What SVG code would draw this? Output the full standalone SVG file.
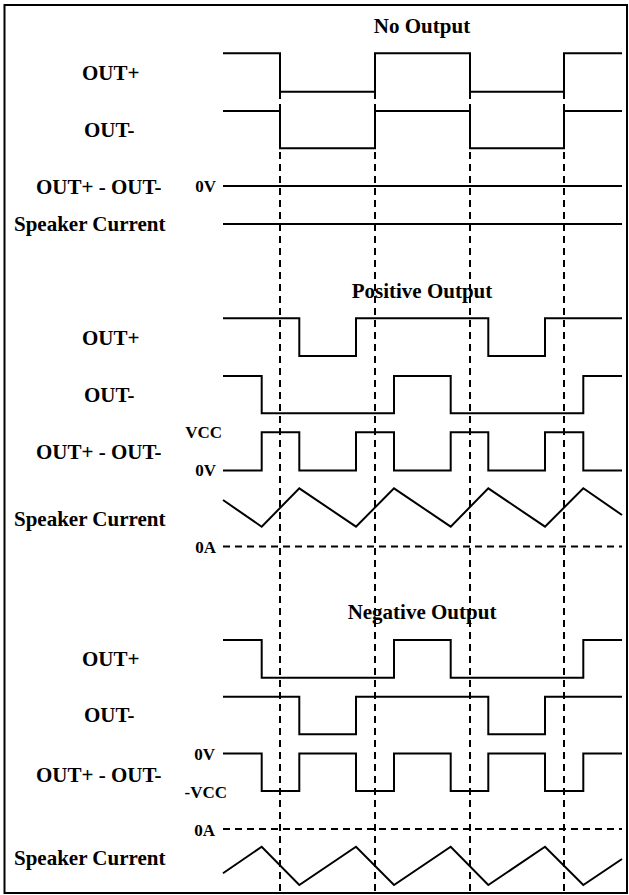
<svg xmlns="http://www.w3.org/2000/svg" width="629" height="895" viewBox="0 0 629 895">
<style>
text{font-family:"Liberation Serif","Times New Roman",serif;font-weight:bold;fill:#000}
.lbl{font-size:21px}
.ttl{font-size:21px;text-anchor:middle}
.sm{font-size:17px;text-anchor:end}
.w{fill:none;stroke:#000;stroke-width:2;stroke-linejoin:miter}
.d{fill:none;stroke:#000;stroke-width:2;stroke-dasharray:7 5}
</style>
<rect x="4.5" y="5" width="622.5" height="888" fill="#fff" stroke="#000" stroke-width="2"/>

<g id="guides">
<path class="d" d="M280,92V893M375,92V893M470,92V893M564,92V893"/>
</g>

<g id="no-output">
<text class="ttl" x="422" y="32.5">No Output</text>
<g id="no-outp"><text class="lbl" x="82" y="80">OUT+</text><path class="w" d="M223,53.3H280V91.7H375V53.3H470V91.7H564V53.3H622"/></g>
<g id="no-outm"><text class="lbl" x="84" y="137">OUT-</text><path class="w" d="M223,111H280V148.3H375V111H470V148.3H564V111H622"/></g>
<g id="no-diff"><text class="lbl" x="36" y="193.5">OUT+ - OUT-</text><text class="sm" x="216" y="191.8">0V</text><path class="w" d="M223,186H622"/></g>
<g id="no-current"><text class="lbl" x="14" y="231">Speaker Current</text><path class="w" d="M223,224H622"/></g>
</g>

<g id="positive-output">
<text class="ttl" x="422" y="297.5">Positive Output</text>
<g id="pos-outp"><text class="lbl" x="82" y="344.5">OUT+</text><path class="w" d="M223,318.3H299.3V356H356V318.3H488.3V356H545V318.3H622"/></g>
<g id="pos-outm"><text class="lbl" x="84" y="401.5">OUT-</text><path class="w" d="M223,376H261.7V413.3H394V376H450.7V413.3H583.3V376H622"/></g>
<g id="pos-diff"><text class="lbl" x="36" y="459">OUT+ - OUT-</text><text class="sm" x="222" y="437.5">VCC</text><text class="sm" x="216" y="476">0V</text><path class="w" d="M223,470.5H261.7V432.3H299.3V470.5H356V432.3H394V470.5H450.7V432.3H488.3V470.5H545V432.3H583.3V470.5H622"/></g>
<g id="pos-current"><text class="lbl" x="14" y="525.5">Speaker Current</text><path class="w" d="M223,500L261.7,526.7L299.3,488.3L356,526.7L394,488.3L450.7,526.7L488.3,488.3L545,526.7L583.3,488.3L622,515"/><text class="sm" x="216" y="552.5">0A</text><path class="d" d="M223,546.5H622"/></g>
</g>

<g id="negative-output">
<text class="ttl" x="422" y="619">Negative Output</text>
<g id="neg-outp"><text class="lbl" x="82" y="666">OUT+</text><path class="w" d="M223,640H261.7V677.7H394V640H450.7V677.7H583.3V640H622"/></g>
<g id="neg-outm"><text class="lbl" x="84" y="722">OUT-</text><path class="w" d="M223,696.7H299.3V734.3H356V696.7H488.3V734.3H545V696.7H622"/></g>
<g id="neg-diff"><text class="lbl" x="36" y="781.5">OUT+ - OUT-</text><text class="sm" x="215" y="760">0V</text><text class="sm" x="227" y="797.5">-VCC</text><path class="w" d="M223,753.5H261.7V791H299.3V753.5H356V791H394V753.5H450.7V791H488.3V753.5H545V791H583.3V753.5H622"/></g>
<g id="neg-current"><text class="sm" x="215" y="835.5">0A</text><path class="d" d="M223,829H622"/><text class="lbl" x="14" y="865">Speaker Current</text><path class="w" d="M223,873.3L261.7,846.7L299.3,885L356,846.7L394,885L450.7,846.7L488.3,885L545,846.7L583.3,885L622,859"/></g>
</g>
</svg>
